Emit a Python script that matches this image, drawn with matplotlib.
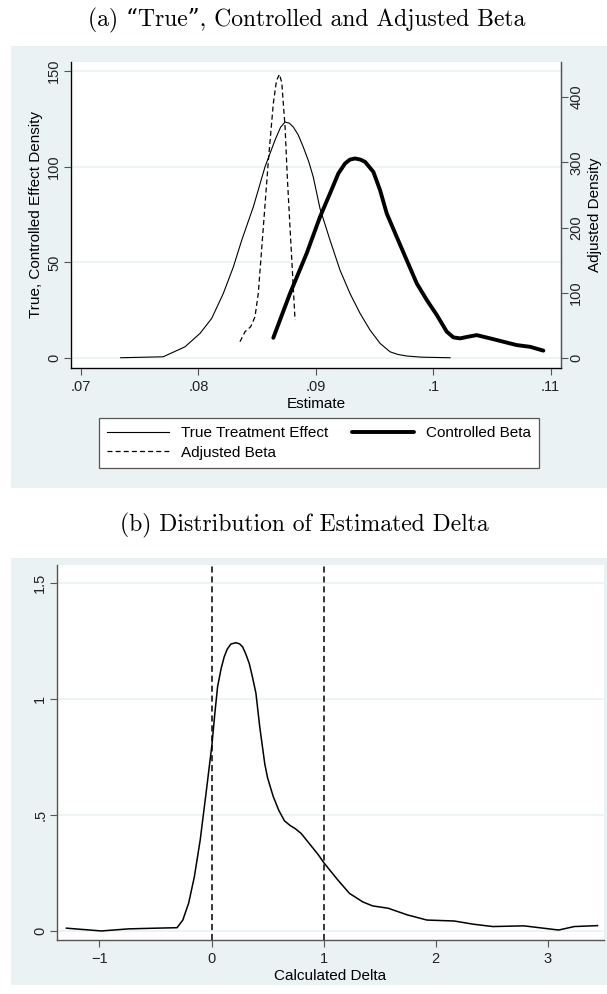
import matplotlib.pyplot as plt
from matplotlib.patches import Rectangle

plt.rcParams['font.family'] = ['Liberation Sans', 'DejaVu Sans']

# panel (a): density curves
true_x = [0.07338, 0.0770, 0.07886, 0.08014, 0.08113, 0.08212, 0.08298, 0.08369, 0.08468,
          0.08567, 0.08652, 0.08700, 0.08738, 0.08775, 0.08808, 0.08850, 0.08893, 0.08940,
          0.08978, 0.09036, 0.09121, 0.09206, 0.09291, 0.09377, 0.09462, 0.09547, 0.09632,
          0.09700, 0.09774, 0.09900, 0.10143]
true_y = [0.3, 0.8, 6, 13, 20.8, 33.8, 47.7, 61.6, 79, 99.8, 113.7, 120.5, 123.2, 122.6,
          120.6, 116.5, 110.2, 102.5, 94.6, 78, 61.6, 46, 33.8, 23.4, 14.7, 7.8, 3.4,
          2.0, 1.2, 0.6, 0.3]

ctrl_x = [0.08638, 0.0878, 0.08922, 0.09036, 0.09121, 0.09192, 0.09249, 0.09290, 0.09334,
          0.09380, 0.0942, 0.0949, 0.09547, 0.09604, 0.09689, 0.09774, 0.0986, 0.09945,
          0.1003, 0.10115, 0.10172, 0.10228, 0.1030, 0.1037, 0.10484, 0.1060, 0.10711,
          0.10825, 0.10938]
ctrl_y = [10.7, 33.8, 54.7, 73.8, 86, 96.4, 101.6, 103.6, 104.2, 103.6, 102.4, 97.2, 87.7,
          75.5, 63.3, 51.2, 39, 30.4, 22.6, 13.9, 10.9, 10.4, 11.3, 12.1, 10.4, 8.6, 6.9,
          6.0, 4.0]

adj_x = [0.08354, 0.08397, 0.08445, 0.08482, 0.0851, 0.08553, 0.08596, 0.08638, 0.08665,
         0.0869, 0.08710, 0.08738, 0.08757, 0.0878, 0.08803, 0.08823]
adj_y = [25.4, 40.7, 48.3, 63.6, 99.4, 201, 303, 390, 425, 434.7, 422, 354, 278, 201, 125,
         58.6]

a_xticks = [0.07, 0.08, 0.09, 0.10, 0.11]
a_xticklabels = ['.07', '.08', '.09', '.1', '.11']
a_lticks = [0, 50, 100, 150]
a_rticks = [0, 100, 200, 300, 400]

# panel (b): distribution of delta
delta_x = [-1.294, -0.982, -0.74, -0.498, -0.308, -0.256, -0.204, -0.153, -0.101, -0.049,
           0.003, 0.03, 0.054, 0.085, 0.113, 0.14, 0.172, 0.217, 0.25, 0.277, 0.305,
           0.336, 0.365, 0.396, 0.43, 0.475, 0.50, 0.55, 0.60, 0.65, 0.70, 0.75, 0.80,
           0.85, 0.90, 0.95, 1.005, 1.126, 1.23, 1.35, 1.437, 1.575, 1.748, 1.921,
           2.163, 2.336, 2.509, 2.785, 2.958, 3.096, 3.235, 3.442]
delta_y = [0.012, 0.0, 0.009, 0.012, 0.014, 0.047, 0.12, 0.234, 0.392, 0.593,
           0.80, 0.94, 1.053, 1.13, 1.182, 1.215, 1.237, 1.243, 1.238, 1.225, 1.195,
           1.154, 1.095, 1.025, 0.88, 0.72, 0.66, 0.58, 0.52, 0.475, 0.455, 0.44, 0.42,
           0.39, 0.36, 0.33, 0.292, 0.22, 0.162, 0.125, 0.108, 0.098, 0.069, 0.047,
           0.043, 0.029, 0.019, 0.022, 0.012, 0.004, 0.019, 0.023]
b_vlines = [0, 1]
b_xticks = [-1, 0, 1, 2, 3]
b_yticks = [0, 0.5, 1, 1.5]
b_yticklabels = ['0', '.5', '1', '1.5']

W, H = 607, 994
bg = '#eaf2f3'
axc = '#555555'
title_font = ['cmr10', 'DejaVu Serif']

fig = plt.figure(figsize=(W / 100, H / 100), dpi=100)
fig.patch.set_facecolor('white')


def px_rect(x0, y0, x1, y1):
    return [x0 / W, 1 - y1 / H, (x1 - x0) / W, (y1 - y0) / H]


# grey panel backgrounds, behind everything
for (x0, y0, x1, y1) in [(11, 46, 607, 488), (11, 558, 607, 985)]:
    r = px_rect(x0, y0, x1, y1)
    fig.patches.append(Rectangle((r[0], r[1]), r[2], r[3], transform=fig.transFigure,
                                 facecolor=bg, edgecolor='none', zorder=-10))

fig.text(307 / W, 1 - 20 / H, '(a) \u201cTrue\u201d, Controlled and Adjusted Beta',
         family=title_font, fontsize=17, ha='center', va='center')
fig.text(304 / W, 1 - 525 / H, '(b) Distribution of Estimated Delta',
         family=title_font, fontsize=17, ha='center', va='center')


def style(ax, right=False):
    ax.set_facecolor('white')
    ax.spines['top'].set_visible(False)
    ax.spines['right'].set_visible(right)
    for s in ['left', 'bottom', 'right']:
        ax.spines[s].set_color(axc)
        ax.spines[s].set_linewidth(1.0)
    ax.tick_params(colors=axc, labelcolor='#222222', labelsize=10.5, length=5, width=0.8)
    ax.tick_params(axis='y', pad=2)
    ax.grid(axis='y', color=bg, linewidth=1.2)
    ax.set_axisbelow(True)


# ---- panel (a)
ax = fig.add_axes(px_rect(71, 62, 561, 368))
style(ax, right=True)
ax.plot(true_x, true_y, color='black', lw=0.8, label='True Treatment Effect')
ax.plot(ctrl_x, ctrl_y, color='black', lw=2.8, solid_capstyle='round',
        solid_joinstyle='round', label='Controlled Beta')
ax.set_xlim(0.06915, 0.11088)
ax.set_ylim(-5.05, 154.5)
ax.set_xticks(a_xticks)
ax.set_xticklabels(a_xticklabels)
ax.set_yticks(a_lticks)
for t in ax.get_yticklabels():
    t.set_rotation(90)
    t.set_va('center')
ax.set_xlabel('Estimate', fontsize=11, labelpad=2)
ax.set_ylabel('True, Controlled Effect Density', fontsize=11, labelpad=3)

ax2 = ax.twinx()
ax2.spines['top'].set_visible(False)
ax2.spines['right'].set_color(axc)
ax2.tick_params(colors=axc, labelcolor='#222222', labelsize=10.5, length=5, width=0.8,
                pad=1)
ax2.plot(adj_x, adj_y, color='black', lw=0.9, dashes=(4, 2.5), label='Adjusted Beta')
ax2.set_ylim(-14.8, 453.5)
ax2.set_yticks(a_rticks)
for t in ax2.get_yticklabels():
    t.set_rotation(90)
    t.set_va('center')
ax2.set_ylabel('Adjusted Density', fontsize=11, labelpad=3)

h1, l1 = ax.get_legend_handles_labels()
h2, l2 = ax2.get_legend_handles_labels()
handles = [h1[0], h2[0], h1[1]]
labels = [l1[0], l2[0], l1[1]]
leg = fig.legend(handles, labels, ncol=2, loc='upper left',
                 bbox_to_anchor=(99 / W, 1 - 418 / H), fontsize=11, frameon=True,
                 fancybox=False, edgecolor=axc, facecolor='white', framealpha=1,
                 handlelength=4, columnspacing=1.6,
                 borderaxespad=0, borderpad=0.55, labelspacing=0.35, handletextpad=0.8)
leg.get_frame().set_linewidth(0.9)

# ---- panel (b)
bx = fig.add_axes(px_rect(57, 565, 604, 940))
style(bx)
bx.plot(delta_x, delta_y, color='black', lw=1.1, solid_joinstyle='round')
for v in b_vlines:
    bx.axvline(v, color='black', lw=1.1, dashes=(4, 2.5))
bx.set_xlim(-1.378, 3.5)
bx.set_ylim(-0.039, 1.578)
bx.set_xticks(b_xticks)
bx.set_yticks(b_yticks)
bx.set_yticklabels(b_yticklabels)
for t in bx.get_yticklabels():
    t.set_rotation(90)
    t.set_va('center')
bx.set_xlabel('Calculated Delta', fontsize=11, labelpad=2)

fig.savefig('out.png', dpi=100)
